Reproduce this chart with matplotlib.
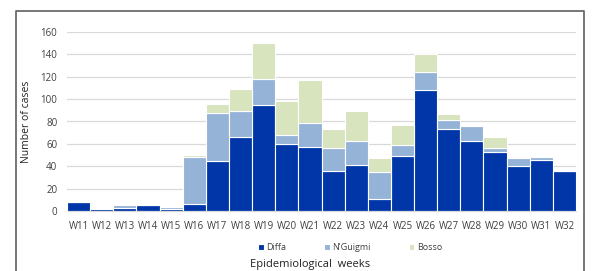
import matplotlib.pyplot as plt
import numpy as np

weeks = ["W11", "W12", "W13", "W14", "W15", "W16", "W17", "W18", "W19", "W20", "W21",
         "W22", "W23", "W24", "W25", "W26", "W27", "W28", "W29", "W30", "W31", "W32"]
diffa = [8, 2, 3, 5, 2, 6, 45, 66, 95, 60, 57, 36, 41, 11, 49, 108, 73, 63, 53, 40, 46, 36]
nguigmi = [0, 1, 2, 0, 2, 42, 43, 23, 23, 8, 22, 20, 22, 24, 10, 16, 8, 13, 3, 7, 2, 0]
bosso = [0, 0, 0, 0, 0, 2, 8, 20, 32, 30, 38, 17, 26, 12, 18, 16, 6, 1, 10, 0, 0, 0]

plt.rcParams['font.family'] = ['Open Sans', 'DejaVu Sans']

fig = plt.figure(figsize=(5.95, 2.71), dpi=100)
ax = fig.add_axes([67 / 595, 60 / 271, 509 / 595, 179 / 271])

x = np.arange(len(weeks))
d = np.array(diffa)
n = np.array(nguigmi)
b = np.array(bosso)
ax.bar(x, d, width=1.0, color="#0036A8", edgecolor="white", linewidth=0.8, label="Diffa")
ax.bar(x, n, bottom=d, width=1.0, color="#95B3D7", edgecolor="white", linewidth=0.8, label="N'Guigmi")
ax.bar(x, b, bottom=d + n, width=1.0, color="#D7E4BD", edgecolor="white", linewidth=0.8, label="Bosso")

ax.set_xlim(-0.5, len(weeks) - 0.5)
ax.set_ylim(0, 160)
ax.set_yticks(range(0, 161, 20))
ax.set_xticks(x)
ax.set_xticklabels(weeks)
ax.yaxis.grid(True, color="#D9D9D9", linewidth=0.9)
ax.set_axisbelow(True)
for s in ["top", "right", "left"]:
    ax.spines[s].set_visible(False)
ax.spines["bottom"].set_color("#D9D9D9")
ax.tick_params(length=0, labelsize=7, colors="#404040", pad=7)
ax.set_ylabel("Number of cases", fontsize=7.5, color="#222222", labelpad=6)

fig.legend(loc="center", bbox_to_anchor=(350 / 595, 1 - 248 / 271), ncol=3, frameon=False,
           fontsize=6.5, handlelength=0.6, handleheight=0.6, columnspacing=4.2,
           handletextpad=0.3, labelcolor="#404040")
fig.text(310 / 595, 1 - 264 / 271, "Epidemiological  weeks", ha="center", va="center",
         fontsize=8, color="#222222")

# outer frame
fig.add_artist(plt.Line2D([16 / 595, 16 / 595, 584 / 595, 584 / 595],
                          [0, 1 - 11 / 271, 1 - 11 / 271, 0],
                          transform=fig.transFigure, color="#606060", linewidth=1.2))

fig.savefig("out.png", dpi=100)
